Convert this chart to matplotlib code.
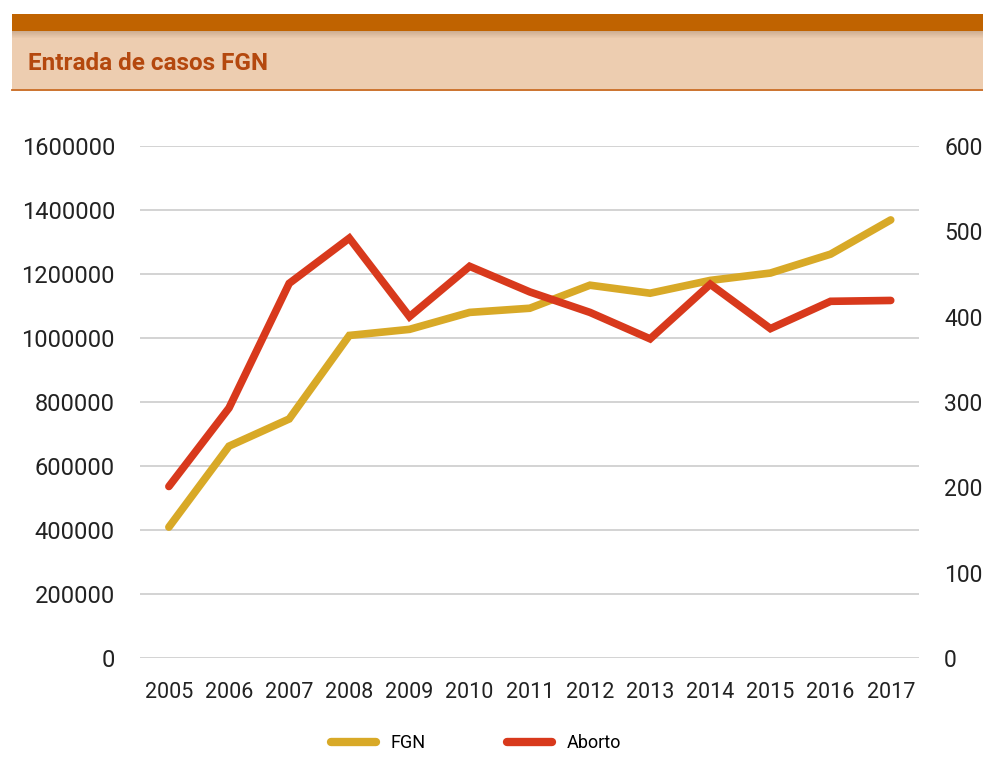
import matplotlib
matplotlib.use("Agg")
import matplotlib.pyplot as plt
from matplotlib.patches import Rectangle
from matplotlib.lines import Line2D
from matplotlib.ticker import FuncFormatter

plt.rcParams['font.family'] = ['Roboto', 'DejaVu Sans']

years = [2005, 2006, 2007, 2008, 2009, 2010, 2011, 2012, 2013, 2014, 2015, 2016, 2017]
fgn = [409000, 662000, 747000, 1008000, 1027000, 1080000, 1093000, 1165000, 1140000, 1180000, 1203000, 1262000, 1369000]
aborto = [201, 293, 439, 492, 400, 459, 429, 405, 374, 438, 386, 418, 419]
left_ticks = [0, 200000, 400000, 600000, 800000, 1000000, 1200000, 1400000, 1600000]
right_ticks = [0, 100, 200, 300, 400, 500, 600]
title = "Entrada de casos FGN"

W, H = 983, 769
fig = plt.figure(figsize=(W / 100, H / 100), dpi=100)

def fx(px):
    return px / W

def fy(py):
    return 1 - py / H

# Header
fig.patches.append(Rectangle((fx(12), fy(89)), 1 - fx(12), fy(30) - fy(89),
                             transform=fig.transFigure, facecolor='#EDCDB0', edgecolor='none', zorder=0))
for i in range(8):
    fig.patches.append(Rectangle((fx(12), fy(31 + i)), 1 - fx(12), 1 / H,
                                 transform=fig.transFigure, facecolor='#8a6a50',
                                 alpha=0.35 * (1 - i / 8), edgecolor='none', zorder=1))
fig.patches.append(Rectangle((fx(12), fy(31)), 1 - fx(12), fy(14) - fy(31),
                             transform=fig.transFigure, facecolor='#C06300', edgecolor='none', zorder=2))
fig.lines.append(Line2D([fx(12), 1], [fy(89.5), fy(89.5)], transform=fig.transFigure,
                        color='#C8681E', linewidth=1.3, zorder=3))
fig.text(fx(28), fy(63), title, fontsize=17.5, fontweight='bold', color='#B4480E',
         ha='left', va='center')

ax = fig.add_axes([fx(140), fy(658), fx(919) - fx(140), fy(146) - fy(658)])
ax2 = ax.twinx()

ax.plot(years, fgn, color='#D8A927', linewidth=5.5, solid_capstyle='round',
        solid_joinstyle='miter', label='FGN', zorder=3)
ax2.plot(years, aborto, color='#D8391C', linewidth=5.5, solid_capstyle='round',
         solid_joinstyle='miter', label='Aborto', zorder=3)

ax.set_xlim(2004.52, 2017.47)
ax.set_ylim(0, 1600000)
ax2.set_ylim(0, 600)
ax.set_yticks(left_ticks)
ax2.set_yticks(right_ticks)
ax.set_xticks(years)
ax.yaxis.set_major_formatter(FuncFormatter(lambda v, p: f"{int(v)}"))
ax2.yaxis.set_major_formatter(FuncFormatter(lambda v, p: f"{int(v)}"))

ax.grid(axis='y', color='#CCCCCC', linewidth=1.2)
ax.set_axisbelow(True)
for a in (ax, ax2):
    for s in a.spines.values():
        s.set_visible(False)
    a.tick_params(length=0, colors='#222222')
ax.tick_params(axis='y', labelsize=17, pad=18)
ax2.tick_params(axis='y', labelsize=16.5, pad=18)
ax.tick_params(axis='x', labelsize=15.5, pad=17)

handles = [Line2D([], [], color='#D8A927', linewidth=6, solid_capstyle='round'),
           Line2D([], [], color='#D8391C', linewidth=6, solid_capstyle='round')]
fig.legend(handles, ['FGN', 'Aborto'], loc='center', bbox_to_anchor=(fx(476), fy(743)),
           ncol=2, frameon=False, fontsize=13, handlelength=2.5, handletextpad=0.8,
           columnspacing=4.5)

fig.savefig('out.png', dpi=100)
